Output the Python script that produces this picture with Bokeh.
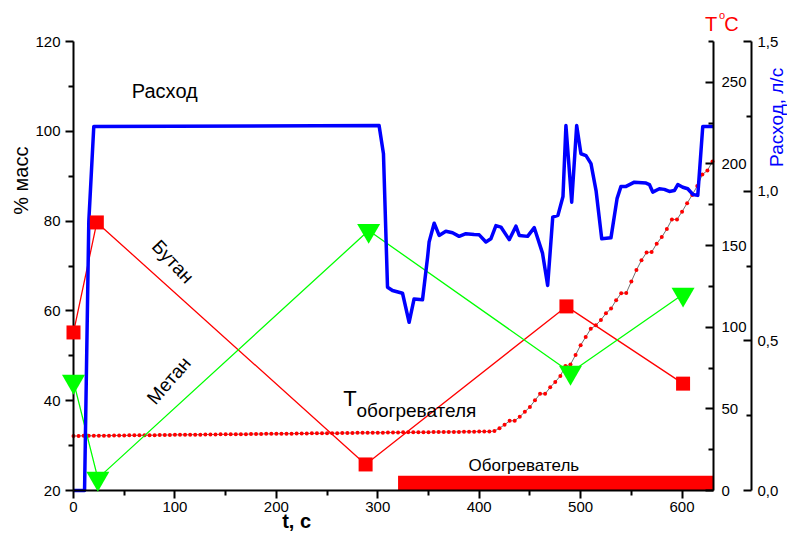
import math

from bokeh.plotting import figure
from bokeh.models import Range1d, LinearAxis, FixedTicker, CustomJSTickFormatter, Label
from bokeh.embed import file_html
from bokeh.resources import INLINE

FONT = "Liberation Sans"

# Gas composition, % mass
butane_t = [0, 23, 288, 486, 601]
butane_pct = [55.2, 79.7, 25.8, 61.0, 43.8]
methane_t = [0, 24, 291, 490, 601]
methane_pct = [44.3, 22.7, 77.9, 46.3, 63.7]

# Gas flow rate, l/s
flow_t = [0, 10.9, 15.1, 20, 301.3, 305.6, 309.6, 314.5, 324.4, 330.9, 335.8, 344.1,
          349.1, 350.6, 355.6, 360.5, 367.1, 373.7, 380.2, 386.9, 395.0, 400.0, 406.6,
          411.5, 416.5, 421.4, 429.6, 436.2, 439.5, 447.7, 454.3, 462.4, 467.5, 472.5,
          477.6, 482.6, 485.5, 491.2, 496.1, 500.3, 505.3, 510.2, 515.2, 520.8, 529.9,
          535.9, 539.8, 544.8, 553.0, 564.5, 567.8, 571.1, 577.6, 582.5, 587.5, 592.4,
          595.8, 600.7, 605.6, 610.6, 615.5, 620.4, 631]
flow_lps = [0, 0, 0.90, 1.216, 1.219, 1.125, 0.679, 0.668, 0.659, 0.562, 0.640, 0.637,
            0.779, 0.830, 0.893, 0.852, 0.866, 0.861, 0.849, 0.858, 0.855, 0.854, 0.830,
            0.841, 0.885, 0.880, 0.838, 0.883, 0.852, 0.849, 0.878, 0.793, 0.685, 0.913,
            0.919, 0.982, 1.219, 0.963, 1.219, 1.125, 1.119, 1.092, 1.002, 0.841, 0.844,
            0.975, 1.016, 1.016, 1.030, 1.027, 1.022, 0.997, 1.008, 1.006, 0.999, 1.002,
            1.022, 1.013, 1.008, 0.989, 0.986, 1.216, 1.216]

# Heater temperature, logged every 5 s
temp_t = list(range(0, 631, 5))
temp_c = [33.4, 33.4, 33.5, 33.5, 33.5, 33.6, 33.6, 33.6, 33.7,
          33.7, 33.7, 33.8, 33.8, 33.8, 33.9, 33.9, 33.9, 34.0,
          34.0, 34.0, 34.1, 34.1, 34.1, 34.2, 34.2, 34.2, 34.3,
          34.3, 34.3, 34.4, 34.4, 34.4, 34.5, 34.5, 34.5, 34.6,
          34.6, 34.6, 34.7, 34.7, 34.7, 34.8, 34.8, 34.8, 34.9,
          34.9, 34.9, 35.0, 35.0, 35.0, 35.1, 35.1, 35.1, 35.2,
          35.2, 35.2, 35.3, 35.3, 35.3, 35.4, 35.4, 35.4, 35.5,
          35.5, 35.5, 35.6, 35.6, 35.6, 35.7, 35.7, 35.7, 35.8,
          35.8, 35.8, 35.9, 35.9, 35.9, 36.0, 36.0, 36.0, 36.1,
          36.1, 36.1,
          36.4, 38.2, 40.2, 42.7, 42.7, 45.2, 48.2, 51.2, 55.2, 59.2,
          59.2, 63.2, 66.5, 70.2, 76.2, 77.2, 83.0, 89.0, 94.0, 99.0,
          101.2, 104.5, 108.5, 111.5, 116.5, 120.8, 121.0, 128.0, 135.0, 141.0,
          145.8, 146.0, 151.2, 155.2, 160.2, 166.0, 166.0, 170.8, 176.0, 181.0,
          186.5, 193.5, 196.0, 201.5]

# Heater switched on, s
heater_on = [320, 631]

# Axis extents and ticks
t_span = [0, 631]
pct_span = [20, 120]
temp_span = [0, 275]
flow_span = [0, 1.5]
t_ticks = [0, 100, 200, 300, 400, 500, 600]
t_minor = [50, 150, 250, 350, 450, 550]
pct_ticks = [20, 40, 60, 80, 100, 120]
pct_minor = [30, 50, 70, 90, 110]
temp_ticks = [0, 50, 100, 150, 200, 250]
temp_minor = [25, 75, 125, 175, 225, 275]
flow_ticks = [0, 0.5, 1.0, 1.5]
flow_minor = [0.25, 0.75, 1.25]

# Canvas and axes box in pixels; the frame fills the whole canvas and the
# axes are pinned inside it so markers and titles are never clipped.
W, H = 787, 537
BOX_L, BOX_R, BOX_T, BOX_B = 73, 713, 41, 490
FLOW_AXIS_X = 751


def padded(span, lo_px, hi_px, length_px):
    k = length_px / (span[1] - span[0])
    return Range1d(span[0] - lo_px / k, span[1] + hi_px / k)


x_rng = padded(t_span, BOX_L, W - BOX_R, BOX_R - BOX_L)
y_rng = padded(pct_span, H - BOX_B, BOX_T, BOX_B - BOX_T)
sx = (BOX_R - BOX_L) / (t_span[1] - t_span[0])

p = figure(width=W, height=H, x_range=x_rng, y_range=y_rng,
           output_backend="svg", toolbar_location=None,
           x_axis_location=None, y_axis_location=None,
           min_border=0, min_border_left=0, min_border_right=0,
           min_border_top=0, min_border_bottom=0)
p.extra_y_ranges = {
    "temp": padded(temp_span, H - BOX_B, BOX_T, BOX_B - BOX_T),
    "flow": padded(flow_span, H - BOX_B, BOX_T, BOX_B - BOX_T),
}
p.grid.visible = False
p.outline_line_color = None
p.background_fill_color = "white"
p.border_fill_color = "white"


def style_axis(ax, inward=False):
    ax.axis_line_width = 2
    ax.major_tick_line_width = 2
    ax.minor_tick_line_width = 2
    if inward:
        ax.major_tick_in, ax.major_tick_out = 8, 0
        ax.minor_tick_in, ax.minor_tick_out = 5, 0
    else:
        ax.major_tick_in, ax.major_tick_out = 0, 8
        ax.minor_tick_in, ax.minor_tick_out = 0, 5
    ax.major_label_text_font = FONT
    ax.major_label_text_font_size = "15px"
    ax.major_label_text_color = "black"
    ax.major_label_standoff = 5


x_axis = LinearAxis(fixed_location=pct_span[0], bounds=tuple(t_span),
                    ticker=FixedTicker(ticks=t_ticks, minor_ticks=t_minor))
style_axis(x_axis)
x_axis.major_label_standoff = 3
p.add_layout(x_axis, "below")

y_axis = LinearAxis(fixed_location=t_span[0], bounds=tuple(pct_span),
                    ticker=FixedTicker(ticks=pct_ticks, minor_ticks=pct_minor))
style_axis(y_axis)
p.add_layout(y_axis, "left")

temp_axis = LinearAxis(y_range_name="temp", fixed_location=t_span[1], bounds=tuple(temp_span),
                       ticker=FixedTicker(ticks=temp_ticks, minor_ticks=temp_minor))
style_axis(temp_axis, inward=True)
temp_axis.major_label_standoff = 8
p.add_layout(temp_axis, "right")

flow_axis = LinearAxis(y_range_name="flow", fixed_location=(FLOW_AXIS_X - BOX_L) / sx,
                       bounds=tuple(flow_span),
                       ticker=FixedTicker(ticks=flow_ticks, minor_ticks=flow_minor),
                       formatter=CustomJSTickFormatter(code="return tick.toFixed(1).replace('.', ',');"))
style_axis(flow_axis, inward=True)
flow_axis.major_label_standoff = 6
p.add_layout(flow_axis, "right")

# heater on bar
p.quad(left=[heater_on[0]], right=[heater_on[1]], bottom=[pct_span[0]], top=[pct_span[0] + 3.3],
       fill_color="#ff0000", line_color=None)

# heater temperature
p.line(temp_t, temp_c, y_range_name="temp", line_color="#707070", line_width=1)
p.scatter(temp_t, temp_c, y_range_name="temp", marker="circle", size=4,
          fill_color="#ff0000", line_color=None)

# composition
p.line(butane_t, butane_pct, line_color="#ff0000", line_width=1.3)
p.line(methane_t, methane_pct, line_color="#00ff00", line_width=1.3)

# flow rate
p.line(flow_t, flow_lps, y_range_name="flow", line_color="#0000ff", line_width=3.5,
       line_join="round")

sq = p.scatter(butane_t, butane_pct, marker="square", size=14, fill_color="#ff0000", line_color=None)
tri = p.scatter(methane_t, methane_pct, marker="inverted_triangle", size=23,
                fill_color="#00ff00", line_color=None)
sq.level = "overlay"
tri.level = "overlay"


def label(x, y, text, size="19px", color="black", angle=0.0, align="center",
          baseline="middle", style="normal"):
    p.add_layout(Label(x=x, y=y, text=text, text_font=FONT, text_font_size=size,
                       text_color=color, angle=angle, text_align=align,
                       text_baseline=baseline, text_font_style=style))


label(90, 109, "Расход", size="20px")
label(98, 71, "Бутан", angle=math.radians(-47))
label(94, 44.5, "Метан", angle=math.radians(49))
label(266, 40.5, "T", size="22px", align="left")
label(279, 37.8, "обогревателя", align="left")
label(444, 25.6, "Обогреватель", size="17px")

# axis titles
label(-52, 89, "% масс", size="20px", angle=math.pi / 2)
label(220, 13.1, "t, c", size="20px", style="bold")
label(692.8, 103.1, "Расход, л/с", color="#0000ff", angle=math.pi / 2)
label(622.7, 124.0, "T", size="20px", color="#ff0000", align="left")
label(636.5, 125.8, "o", size="11px", color="#ff0000", align="left")
label(641.5, 124.0, "C", size="20px", color="#ff0000", align="left")

open("out.html", "w").write(file_html(p, INLINE))
